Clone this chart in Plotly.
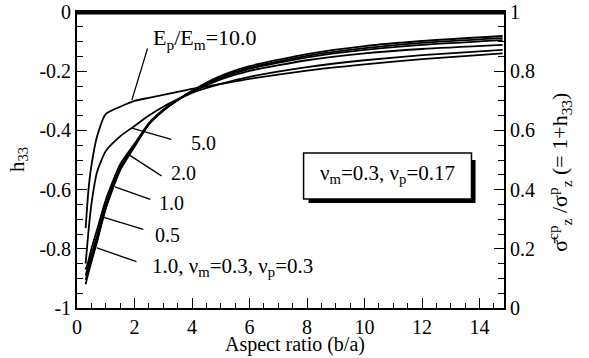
import plotly.graph_objects as go

# ---- data ----
aspect = [0.3, 0.4, 0.5, 0.7, 1.0, 1.5, 2.0, 2.5, 3.0, 3.5, 4.0, 5.0, 6.0, 8.0, 10.0, 12.0, 14.8]
h_E10 = [-0.73, -0.60, -0.52, -0.42, -0.345, -0.32, -0.30, -0.29, -0.28, -0.27, -0.26, -0.243, -0.226, -0.198, -0.177, -0.159, -0.140]
h_E5 = [-0.85, -0.74, -0.65, -0.54, -0.47, -0.42, -0.385, -0.35, -0.32, -0.295, -0.273, -0.243, -0.219, -0.186, -0.163, -0.146, -0.128]
h_E2 = [-0.87, -0.84, -0.80, -0.735, -0.635, -0.515, -0.445, -0.375, -0.33, -0.297, -0.27, -0.228, -0.199, -0.163, -0.140, -0.125, -0.111]
h_E1 = [-0.89, -0.855, -0.82, -0.755, -0.65, -0.525, -0.45, -0.378, -0.332, -0.298, -0.27, -0.224, -0.192, -0.153, -0.128, -0.111, -0.095]
h_E05 = [-0.92, -0.88, -0.845, -0.775, -0.665, -0.535, -0.455, -0.38, -0.333, -0.297, -0.266, -0.216, -0.183, -0.142, -0.115, -0.098, -0.081]
h_E1_nu03 = [-0.905, -0.87, -0.835, -0.77, -0.66, -0.53, -0.452, -0.379, -0.333, -0.297, -0.268, -0.22, -0.188, -0.148, -0.122, -0.104, -0.088]

series = [h_E10, h_E5, h_E2, h_E1, h_E05, h_E1_nu03]

left_tickvals = [0, -0.2, -0.4, -0.6, -0.8, -1]
left_ticktext = ["0", "-0.2", "-0.4", "-0.6", "-0.8", "-1"]
right_tickvals = [0, 0.2, 0.4, 0.6, 0.8, 1]
right_ticktext = ["0", "0.2", "0.4", "0.6", "0.8", "1"]
x_tickvals = [0, 2, 4, 6, 8, 10, 12, 14]

X_MAX = 14.85
FONT = "Liberation Serif, Times New Roman, Times, serif"

fig = go.Figure()
for ys in series:
    fig.add_trace(go.Scatter(x=aspect, y=ys, mode="lines",
                             line=dict(color="black", width=1.8, shape="spline", smoothing=0.6),
                             showlegend=False, hoverinfo="skip"))

# invisible trace so the right axis and the top axis are drawn
fig.add_trace(go.Scatter(x=[aspect[0]], y=[1 + h_E10[0]], xaxis="x2", yaxis="y2", mode="markers",
                         marker=dict(opacity=0), showlegend=False, hoverinfo="skip"))

common = dict(ticks="inside", ticklen=10, tickwidth=1.2, tickcolor="black", showline=True,
              linecolor="black", linewidth=1.8, showgrid=False, zeroline=False,
              automargin=False, tickfont=dict(family=FONT, size=20, color="black"))

fig.update_layout(
    width=589, height=358,
    margin=dict(l=77, r=85, t=12, b=50, autoexpand=False),
    paper_bgcolor="white", plot_bgcolor="white",
    font=dict(family=FONT, size=20, color="black"),
    xaxis=dict(range=[0, X_MAX], tickvals=x_tickvals, mirror=True,
               minor=dict(dtick=0.5, ticks="inside", ticklen=5, tickcolor="black", tickwidth=1),
               **common),
    xaxis2=dict(range=[0, X_MAX], overlaying="x", side="top", showline=True, linecolor="black",
                linewidth=2, showticklabels=False, ticks="", showgrid=False, zeroline=False,
                automargin=False),
    yaxis=dict(range=[-1, 0], tickvals=left_tickvals, ticktext=left_ticktext,
               minor=dict(dtick=0.05, ticks="inside", ticklen=6, tickcolor="black", tickwidth=1),
               **common),
    yaxis2=dict(range=[0, 1], overlaying="y", side="right", tickvals=right_tickvals,
                ticktext=right_ticktext,
                minor=dict(dtick=0.05, ticks="inside", ticklen=6, tickcolor="black", tickwidth=1),
                **common),
)

# top frame line (data-referenced, just under h33 = 0)
fig.add_shape(type="line", xref="x", yref="y", x0=0, x1=X_MAX, y0=-0.004, y1=-0.004,
              line=dict(color="black", width=2.4), layer="above")

# axis titles
fig.add_annotation(x=0.51, y=-0.122, xref="paper", yref="paper", text="Aspect ratio (b/a)",
                   showarrow=False, xanchor="center", yanchor="middle",
                   font=dict(family=FONT, size=20, color="black"))
fig.add_annotation(x=-0.138, y=0.5, xref="paper", yref="paper", text="h<sub>33</sub>",
                   textangle=-90, showarrow=False, xanchor="center", yanchor="middle",
                   font=dict(family=FONT, size=21, color="black"))
fig.add_annotation(x=1.131, y=0.46, xref="paper", yref="paper",
                   text="σ̄<sup>cp</sup><sub>z</sub> /σ<sup>p</sup><sub>z</sub> (= 1+h<sub>33</sub>)",
                   textangle=-90, showarrow=False, xanchor="center", yanchor="middle",
                   font=dict(family=FONT, size=22, color="black"))

# leader lines (curve point -> label)
leaders = [
    (1.91, -0.297, 2.47, -0.118),
    (1.91, -0.392, 3.33, -0.432),
    (1.77, -0.480, 2.99, -0.557),
    (1.32, -0.591, 2.60, -0.635),
    (0.90, -0.693, 2.36, -0.736),
    (0.69, -0.797, 2.12, -0.845),
]
for (x0, y0, x1, y1) in leaders:
    fig.add_annotation(x=x0, y=y0, ax=x1, ay=y1, xref="x", yref="y", axref="x", ayref="y",
                       text="", showarrow=True, arrowhead=0, arrowwidth=1.3, arrowcolor="black",
                       standoff=0, startstandoff=0)

labels = [
    ("E<sub>p</sub>/E<sub>m</sub>=10.0", 2.58, -0.09, "left", 22),
    ("5.0", 4.41, -0.443, "center", 20),
    ("2.0", 3.72, -0.544, "center", 20),
    ("1.0", 3.30, -0.645, "center", 20),
    ("0.5", 3.16, -0.753, "center", 20),
    ("1.0, ν<sub>m</sub>=0.3, ν<sub>p</sub>=0.3", 2.53, -0.862, "left", 21),
]
for (t, x, y, xa, fs) in labels:
    fig.add_annotation(x=x, y=y, xref="x", yref="y", text=t, showarrow=False,
                       xanchor=xa, yanchor="middle", font=dict(family=FONT, size=fs, color="black"))

# boxed note with drop shadow
fig.add_shape(type="rect", xref="x", yref="y", x0=8.05, x1=13.86, y0=-0.500, y1=-0.645,
              fillcolor="black", line=dict(width=0), layer="above")
fig.add_shape(type="rect", xref="x", yref="y", x0=7.88, x1=13.72, y0=-0.476, y1=-0.632,
              fillcolor="white", line=dict(color="black", width=1.5), layer="above")
fig.add_annotation(x=10.8, y=-0.548, xref="x", yref="y",
                   text="ν<sub>m</sub>=0.3, ν<sub>p</sub>=0.17", showarrow=False,
                   xanchor="center", yanchor="middle", font=dict(family=FONT, size=21, color="black"))

# remove the page's default body margin so the figure sits at the window origin
fig.write_html("out.html", config={"displayModeBar": False},
               post_script="document.body.style.margin='0px';document.body.style.overflow='hidden';")
